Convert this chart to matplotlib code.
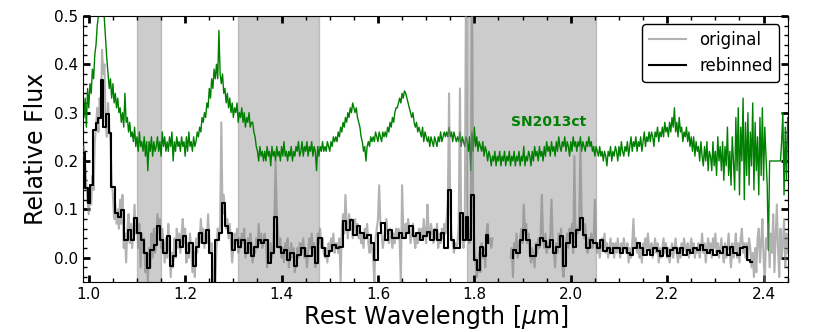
# -*- coding: utf-8 -*-
"""
Rest-frame NIR spectrum: original and rebinned, compared with SN2013ct.
"""

import matplotlib
matplotlib.use('Agg')
import matplotlib.pyplot as plt
from matplotlib.ticker import MultipleLocator
import numpy as np


#==============================================================================
# Data
#==============================================================================

# common wavelength grid (micron), 0.0025 step, one row below = 0.025 micron
wave = np.linspace(0.990, 2.450, 585)

# SN2013ct template (offset)
sn2013ct = [
    0.29, 0.33, 0.27, 0.35, 0.31, 0.36, 0.34, 0.39, 0.37, 0.42,
    0.44, 0.48, 0.50, 0.53, 0.55, 0.52, 0.54, 0.49, 0.45, 0.41,
    0.38, 0.35, 0.37, 0.33, 0.36, 0.32, 0.34, 0.31, 0.33, 0.30,
    0.31, 0.28, 0.30, 0.27, 0.34, 0.28, 0.29, 0.26, 0.28, 0.25,
    0.26, 0.24, 0.27, 0.23, 0.25, 0.22, 0.26, 0.23, 0.24, 0.22,
    0.25, 0.21, 0.24, 0.18, 0.24, 0.22, 0.25, 0.21, 0.24, 0.22,
    0.23, 0.25, 0.22, 0.24, 0.21, 0.26, 0.23, 0.25, 0.22, 0.24,
    0.22, 0.25, 0.23, 0.26, 0.20, 0.24, 0.22, 0.25, 0.23, 0.24,
    0.22, 0.25, 0.23, 0.24, 0.21, 0.25, 0.22, 0.26, 0.23, 0.24,
    0.22, 0.25, 0.23, 0.24, 0.26, 0.25, 0.27, 0.26, 0.29, 0.28,
    0.30, 0.29, 0.32, 0.31, 0.35, 0.33, 0.37, 0.35, 0.39, 0.37,
    0.40, 0.37, 0.47, 0.38, 0.36, 0.38, 0.34, 0.35, 0.32, 0.34,
    0.31, 0.33, 0.30, 0.32, 0.29, 0.31, 0.30, 0.32, 0.28, 0.30,
    0.29, 0.31, 0.28, 0.30, 0.27, 0.29, 0.28, 0.30, 0.27, 0.28,
    0.28, 0.26, 0.25, 0.23, 0.22, 0.20, 0.23, 0.21, 0.22, 0.20,
    0.22, 0.20, 0.23, 0.21, 0.22, 0.19, 0.23, 0.21, 0.22, 0.20,
    0.23, 0.21, 0.22, 0.20, 0.23, 0.21, 0.24, 0.21, 0.22, 0.20,
    0.22, 0.21, 0.23, 0.20, 0.22, 0.21, 0.23, 0.22, 0.24, 0.21,
    0.22, 0.24, 0.21, 0.23, 0.22, 0.24, 0.21, 0.23, 0.22, 0.24,
    0.21, 0.23, 0.22, 0.18, 0.23, 0.21, 0.23, 0.22, 0.24, 0.22,
    0.23, 0.22, 0.24, 0.23, 0.22, 0.24, 0.23, 0.25, 0.24, 0.25,
    0.24, 0.26, 0.25, 0.27, 0.26, 0.28, 0.27, 0.29, 0.28, 0.30,
    0.29, 0.31, 0.30, 0.32, 0.31, 0.30, 0.31, 0.29, 0.28, 0.27,
    0.25, 0.24, 0.22, 0.23, 0.20, 0.23, 0.24, 0.23, 0.25, 0.24,
    0.25, 0.24, 0.26, 0.25, 0.24, 0.26, 0.25, 0.24, 0.26, 0.25,
    0.26, 0.25, 0.27, 0.26, 0.28, 0.27, 0.29, 0.28, 0.30, 0.31,
    0.31, 0.32, 0.33, 0.32, 0.34, 0.33, 0.345, 0.34, 0.33, 0.32,
    0.31, 0.30, 0.29, 0.30, 0.28, 0.27, 0.28, 0.26, 0.27, 0.26,
    0.25, 0.27, 0.24, 0.26, 0.25, 0.24, 0.25, 0.23, 0.25, 0.24,
    0.23, 0.25, 0.24, 0.23, 0.25, 0.24, 0.26, 0.24, 0.25, 0.26,
    0.25, 0.26, 0.25, 0.27, 0.25, 0.26, 0.24, 0.26, 0.25, 0.24,
    0.25, 0.24, 0.26, 0.23, 0.25, 0.24, 0.23, 0.25, 0.24, 0.22,
    0.25, 0.18, 0.26, 0.22, 0.27, 0.23, 0.25, 0.22, 0.24, 0.23,
    0.22, 0.24, 0.21, 0.23, 0.22, 0.20, 0.22, 0.21, 0.19, 0.21,
    0.20, 0.22, 0.19, 0.21, 0.20, 0.22, 0.19, 0.21, 0.20, 0.22,
    0.19, 0.21, 0.20, 0.22, 0.19, 0.21, 0.20, 0.22, 0.19, 0.21,
    0.20, 0.22, 0.19, 0.21, 0.20, 0.23, 0.19, 0.21, 0.20, 0.22,
    0.21, 0.19, 0.22, 0.20, 0.23, 0.21, 0.22, 0.20, 0.23, 0.21,
    0.22, 0.20, 0.23, 0.21, 0.24, 0.22, 0.23, 0.21, 0.24, 0.22,
    0.23, 0.21, 0.24, 0.22, 0.25, 0.23, 0.22, 0.24, 0.23, 0.25,
    0.22, 0.24, 0.23, 0.21, 0.24, 0.22, 0.25, 0.23, 0.24, 0.22,
    0.24, 0.23, 0.25, 0.22, 0.24, 0.23, 0.22, 0.24, 0.23, 0.25,
    0.23, 0.24, 0.22, 0.23, 0.21, 0.23, 0.22, 0.21, 0.23, 0.21,
    0.22, 0.20, 0.22, 0.21, 0.19, 0.22, 0.21, 0.23, 0.20, 0.22,
    0.21, 0.23, 0.22, 0.20, 0.23, 0.21, 0.24, 0.22, 0.21, 0.23,
    0.22, 0.24, 0.21, 0.23, 0.25, 0.22, 0.24, 0.23, 0.25, 0.22,
    0.24, 0.23, 0.25, 0.22, 0.24, 0.26, 0.23, 0.25, 0.24, 0.26,
    0.24, 0.26, 0.25, 0.23, 0.26, 0.25, 0.27, 0.24, 0.26, 0.25,
    0.27, 0.25, 0.28, 0.26, 0.27, 0.25, 0.28, 0.26, 0.29, 0.27,
    0.31, 0.26, 0.28, 0.25, 0.29, 0.26, 0.27, 0.24, 0.26, 0.25,
    0.27, 0.24, 0.26, 0.23, 0.25, 0.22, 0.25, 0.21, 0.24, 0.22,
    0.23, 0.20, 0.24, 0.21, 0.19, 0.23, 0.20, 0.24, 0.18, 0.22,
    0.21, 0.18, 0.24, 0.19, 0.22, 0.17, 0.25, 0.20, 0.23, 0.18,
    0.24, 0.16, 0.23, 0.19, 0.27, 0.17, 0.22, 0.15, 0.25, 0.20,
    0.14, 0.29, 0.18, 0.31, 0.13, 0.27, 0.20, 0.33, 0.12, 0.28,
    0.17, 0.30, 0.15, 0.26, 0.19, 0.32, 0.14, 0.28, 0.18, 0.25,
    0.13, 0.29, 0.17, 0.31, 0.16, 0.27, 0.21, 0.15, 0.015, 0.20,
    0.20, 0.20, 0.20, 0.20, 0.20, 0.20, 0.20, 0.20, 0.20, 0.24,
    0.30, 0.13, 0.27, 0.16, 0.29,
]

# original spectrum on the same grid (gap in the telluric band)
nan = np.nan
original = [
    0.23, 0.19, 0.15, 0.12, 0.09, 0.13, 0.11, 0.17, 0.14, 0.24,
    0.27, 0.31, 0.26, 0.33, 0.29, 0.43, 0.38, 0.40, 0.28, 0.25,
    0.32, 0.27, 0.24, 0.16, 0.13, 0.08, 0.11, 0.07, 0.10, 0.06,
    0.12, 0.07, 0.13, 0.02, 0.05, -0.01, 0.06, 0.09, 0.03, 0.07,
    0.02, 0.06, 0.11, 0.05, 0.08, 0.02, 0.07, -0.02, 0.05, 0.01,
    0.04, -0.03, 0.01, -0.05, 0.02, -0.02, 0.05, 0.00, 0.06, 0.01,
    0.04, 0.09, 0.05, 0.08, 0.02, 0.06, 0.03, -0.01, 0.04, 0.00,
    0.07, 0.02, -0.04, 0.01, -0.02, 0.04, 0.00, 0.06, 0.02, 0.05,
    0.01, 0.05, 0.08, 0.03, 0.06, -0.01, 0.03, 0.00, 0.05, 0.02,
    -0.03, 0.01, -0.04, 0.04, 0.01, 0.05, 0.03, 0.08, 0.04, 0.06,
    0.02, 0.05, 0.03, 0.09, 0.04, 0.01, 0.03, -0.03, -0.06, -0.05,
    0.02, 0.06, 0.04, 0.07, 0.28, 0.09, 0.13, 0.10, 0.06, 0.08,
    0.04, 0.07, 0.03, -0.01, 0.02, 0.05, 0.03, 0.06, 0.01, 0.04,
    0.02, 0.05, 0.03, 0.06, 0.00, 0.02, 0.04, 0.01, 0.05, 0.03,
    -0.01, 0.02, 0.01, 0.04, 0.02, 0.07, 0.03, 0.05, 0.02, 0.04,
    0.05, 0.03, -0.02, 0.01, -0.01, 0.03, 0.00, 0.02, 0.07, 0.20,
    0.09, 0.05, 0.02, 0.04, 0.00, 0.02, -0.01, 0.03, 0.01, 0.04,
    -0.02, 0.01, 0.03, 0.00, 0.02, -0.03, -0.01, 0.02, 0.00, 0.03,
    0.03, 0.01, 0.04, 0.00, 0.02, -0.02, 0.01, 0.04, 0.02, 0.05,
    0.01, 0.03, -0.02, 0.00, 0.05, 0.03, 0.06, 0.02, 0.04, 0.01,
    0.00, 0.02, -0.01, 0.03, 0.01, 0.04, 0.02, 0.05, 0.01, 0.03,
    0.03, 0.01, 0.04, -0.05, 0.06, 0.09, 0.05, 0.13, 0.07, 0.04,
    0.09, 0.06, 0.08, 0.04, 0.06, 0.08, 0.05, 0.07, 0.04, 0.06,
    0.03, 0.05, 0.02, 0.06, 0.04, 0.07, 0.03, 0.01, 0.04, 0.02,
    0.00, -0.05, 0.04, 0.06, 0.08, 0.15, 0.07, 0.05, 0.02, 0.04,
    0.06, 0.08, 0.05, 0.03, 0.06, 0.04, 0.02, 0.05, 0.03, 0.06,
    0.04, 0.06, 0.03, -0.05, 0.15, 0.06, 0.04, 0.07, 0.05, 0.08,
    0.06, 0.03, 0.05, 0.07, 0.04, 0.02, 0.05, 0.03, 0.06, 0.04,
    0.06, 0.04, 0.08, 0.05, 0.03, 0.11, 0.06, 0.04, 0.07, 0.05,
    0.03, 0.06, 0.04, 0.07, 0.02, 0.05, 0.03, 0.06, 0.04, 0.07,
    0.05, 0.08, 0.12, 0.34, 0.10, 0.05, 0.03, 0.01, 0.03, 0.02,
    0.03, 0.07, 0.35, 0.09, 0.04, 0.02, 0.06, 0.55, 0.08, 0.05,
    0.03, 0.06, 0.60, 0.11, 0.02, -0.01, -0.04, -0.02, 0.01, -0.03,
    0.03, 0.00, 0.02, -0.02, 0.05, 0.07, 0.03, 0.04, 0.02, 0.04,
    nan, nan, nan, nan, nan, nan, nan, nan, nan, nan,
    nan, nan, nan, nan, 0.00, 0.02, -0.04, 0.03, 0.01, 0.05,
    0.00, 0.02, 0.04, 0.06, 0.03, 0.11, 0.05, 0.07, 0.03, 0.05,
    0.01, -0.01, 0.02, 0.00, -0.02, 0.03, 0.01, 0.04, 0.02, 0.05,
    0.13, 0.04, 0.02, 0.05, 0.01, 0.03, 0.02, 0.05, 0.12, 0.03,
    0.01, -0.02, 0.03, 0.01, 0.05, 0.03, 0.06, -0.02, -0.04, 0.00,
    0.03, 0.05, 0.02, 0.06, 0.04, 0.07, 0.01, 0.21, 0.03, 0.06,
    0.05, 0.08, 0.23, 0.09, 0.06, 0.04, 0.07, 0.03, 0.01, 0.04,
    0.03, 0.05, 0.02, 0.04, 0.12, 0.03, 0.01, 0.03, 0.00, 0.02,
    0.04, 0.02, 0.05, 0.01, 0.03, 0.00, 0.02, 0.04, 0.01, 0.03,
    0.00, 0.03, 0.01, 0.04, 0.02, 0.00, 0.03, 0.01, 0.04, 0.02,
    0.01, 0.03, -0.01, 0.02, 0.00, 0.03, 0.08, 0.02, 0.04, 0.01,
    0.03, 0.00, 0.02, -0.01, 0.03, 0.01, 0.04, 0.02, 0.05, 0.02,
    0.01, 0.03, 0.00, 0.02, 0.04, 0.01, 0.03, -0.01, 0.02, 0.00,
    0.02, 0.04, 0.01, 0.03, 0.00, 0.02, -0.01, 0.01, 0.03, 0.00,
    0.02, 0.04, 0.01, -0.01, 0.02, 0.00, 0.03, 0.01, 0.04, 0.02,
    0.01, 0.03, 0.00, 0.02, 0.04, 0.01, 0.03, 0.00, 0.02, 0.01,
    0.03, 0.00, 0.02, 0.05, 0.01, 0.03, -0.01, 0.02, 0.04, 0.01,
    0.03, 0.00, 0.04, 0.02, 0.05, 0.01, 0.03, 0.00, 0.02, 0.04,
    0.01, -0.01, 0.03, 0.00, 0.02, 0.05, 0.01, -0.02, 0.03, 0.00,
    0.02, 0.05, 0.00, 0.03, -0.01, 0.04, 0.06, 0.01, 0.03, 0.00,
    0.03, 0.00, 0.04, 0.02, -0.02, 0.01, -0.04, 0.02, -0.03, 0.04,
    0.06, -0.01, 0.03, 0.08, 0.00, -0.05, 0.04, 0.02, 0.07, -0.02,
    0.05, 0.01, 0.09, -0.03, 0.04, 0.11, 0.02, -0.04, 0.06, 0.00,
    0.03, 0.08, -0.02, 0.05, 0.01,
]

# rebinned spectrum, in segments: (first, last) bin centre and bin values
rebin_a1_range = (0.990, 1.044)
rebin_a1 = [0.216, 0.144, 0.113, 0.151, 0.264, 0.278, 0.288, 0.367, 0.271,
            0.298, 0.257]
rebin_a2_range = (1.050, 1.435)
rebin_a2 = [0.147, 0.092, 0.085, 0.099, 0.037, 0.058, 0.037, 0.082, 0.051,
            0.037, 0.010, -0.021, 0.016, 0.027, 0.065, 0.037, 0.010, 0.044,
            -0.018, 0.003, 0.037, 0.023, 0.044, 0.010, 0.030, -0.018, 0.023,
            0.051, 0.030, 0.058, 0.010, -0.060, 0.037, 0.051, 0.113, 0.065,
            0.051, 0.016, 0.037, 0.023, 0.037, 0.010, 0.030, 0.003, 0.023,
            0.037, 0.030, 0.037, -0.011, 0.010, 0.085, 0.023, 0.010, 0.016,
            -0.004, 0.010, -0.018, 0.006]
rebin_b1_range = (1.444, 1.741)
rebin_b1 = [0.020, 0.003, 0.003, 0.023, -0.011, 0.041, 0.020, 0.003, 0.013,
            0.027, 0.020, 0.023, 0.075, 0.058, 0.078, 0.047, 0.065, 0.051,
            0.041, 0.047, 0.030, -0.004, 0.051, 0.071, 0.037, 0.058, 0.041,
            0.041, 0.051, 0.041, 0.051, 0.065, 0.044, 0.051, 0.037, 0.044,
            0.054, 0.037, 0.058, 0.037, 0.051, 0.020]
rebin_b2_range = (1.749, 1.832)
rebin_b2 = [0.140, 0.037, 0.020, 0.020, 0.092, 0.037, 0.085, 0.037, 0.130,
            -0.004, -0.025, 0.023, 0.003, 0.047, 0.030]
rebin_c_range = (1.877, 2.375)
rebin_c = [-0.001, 0.016, 0.010, 0.037, 0.058, 0.037, 0.003, 0.003, 0.027,
           0.041, 0.034, 0.023, 0.037, 0.010, 0.023, 0.044, -0.018, 0.030,
           0.051, 0.023, 0.058, 0.082, 0.047, 0.020, 0.037, 0.030, 0.020,
           0.037, 0.013, 0.020, 0.010, 0.020, 0.020, 0.010, 0.020, 0.010,
           0.006, 0.020, 0.030, 0.020, 0.006, 0.016, 0.006, 0.020, 0.013,
           0.003, 0.020, 0.003, 0.016, 0.020, 0.010, 0.020, 0.006, 0.016,
           0.010, 0.020, 0.016, 0.027, 0.016, 0.010, 0.016, 0.006, 0.013,
           0.010, 0.023, 0.006, 0.023, 0.010, 0.006, 0.020, 0.023, -0.004,
           -0.008]

# regions of strong telluric absorption
bands = [(1.100, 1.150), (1.310, 1.478), (1.784, 2.052)]


#==============================================================================
# Plot
#==============================================================================

fig = plt.figure(figsize=(8.3, 3.32), dpi=100)
ax = fig.add_axes([0.100, 0.151, 0.849, 0.801])

for lo, hi in bands:
    ax.axvspan(lo, hi, color='gray', alpha=0.4, zorder=0)

ax.plot(wave, sn2013ct, color='green', lw=1, zorder=2)
ax.plot(wave, original, color='gray', alpha=0.6, lw=1.5, zorder=3,
        label='original')

segments = [(rebin_a1_range, rebin_a1), (rebin_a2_range, rebin_a2),
            (rebin_b1_range, rebin_b1), (rebin_b2_range, rebin_b2),
            (rebin_c_range, rebin_c)]
rebin_wave = []
rebin_flux = []
for (lo, hi), vals in segments:
    rebin_wave.extend(np.linspace(lo, hi, len(vals)))
    rebin_flux.extend(vals)
    if lo == rebin_b2_range[0]:
        # break the line over the gap
        rebin_wave.append(np.nan)
        rebin_flux.append(np.nan)
ax.plot(rebin_wave, rebin_flux, color='black', lw=1.5, drawstyle='steps-mid',
        zorder=4, label='rebinned')

ax.text(1.875, 0.28, 'SN2013ct', color='green', fontsize=10,
        fontweight='bold', va='center', ha='left')

ax.set_xlim(0.988, 2.450)
ax.set_ylim(-0.05, 0.5)
ax.xaxis.set_major_locator(MultipleLocator(0.2))
ax.xaxis.set_minor_locator(MultipleLocator(0.05))
ax.yaxis.set_major_locator(MultipleLocator(0.1))
ax.yaxis.set_minor_locator(MultipleLocator(0.02))
ax.tick_params(which='both', direction='in', top=True, right=True,
               labelsize=11)
ax.tick_params(which='major', length=5, width=2)
ax.tick_params(which='minor', length=3, width=1)
ax.set_xlabel(r'Rest Wavelength [$\mu$m]', fontsize=17, labelpad=1)
ax.set_ylabel('Relative Flux', fontsize=17, labelpad=4)

leg = ax.legend(loc='upper right', fontsize=12, fancybox=True, framealpha=1,
                handlelength=2.2, borderaxespad=0.5)
leg.get_frame().set_edgecolor('black')

fig.savefig('out.png', dpi=100)
